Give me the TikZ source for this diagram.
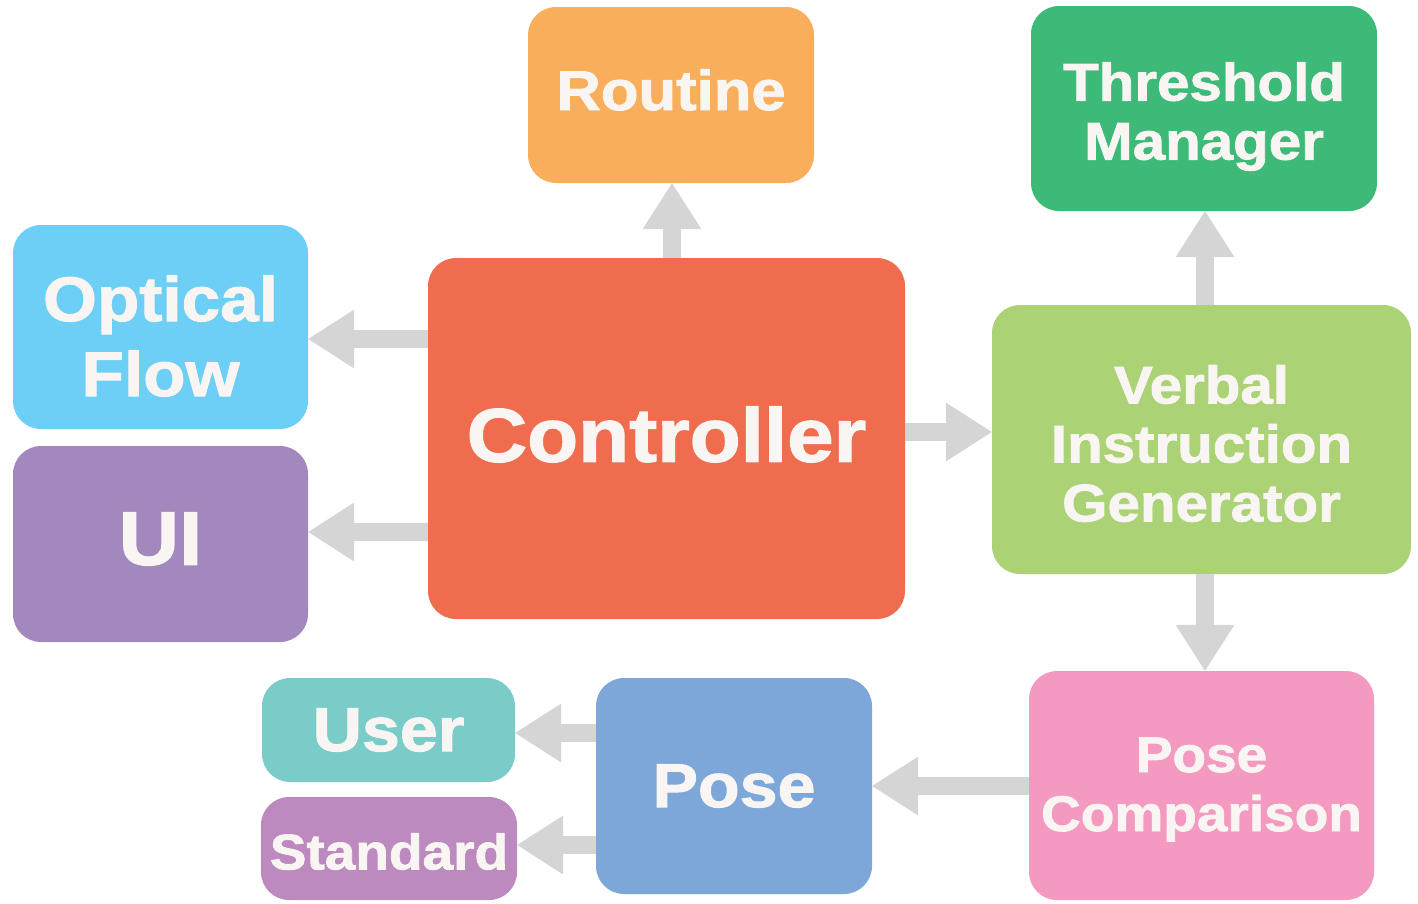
\documentclass[tikz,border=0pt]{standalone}
\usepackage{fontspec}
\usetikzlibrary{arrows.meta}
\newfontfamily\boxfont{Liberation Sans}[FakeStretch=1.1, BoldFeatures={FakeBold=1.6}]
\definecolor{cRoutine}{HTML}{F9AE5B}
\definecolor{cThresh}{HTML}{3DB978}
\definecolor{cOptical}{HTML}{6DCFF6}
\definecolor{cUI}{HTML}{A288BD}
\definecolor{cCtrl}{HTML}{F06C4F}
\definecolor{cVerbal}{HTML}{ABD274}
\definecolor{cPoseComp}{HTML}{F49AC1}
\definecolor{cPose}{HTML}{7DA7D8}
\definecolor{cUser}{HTML}{7ACCC8}
\definecolor{cStandard}{HTML}{BD8ABF}
\definecolor{cArrow}{HTML}{D5D5D5}
\definecolor{cText}{HTML}{F8F5F3}
\tikzset{
  blk/.style={rectangle, rounded corners=28pt, inner sep=0pt},
  lbl/.style={align=center, text=cText, inner sep=0pt},
  fs/.style={font=\boxfont\bfseries\fontsize{#1}{59}\selectfont},
  conn/.style={draw=cArrow, line width=18pt, -{Triangle[width=59pt,length=46pt,line width=0pt]}},
}
\begin{document}
\begin{tikzpicture}[x=1pt,y=-1pt]
\useasboundingbox (0,0) rectangle (1418,903);
\node[blk, fill=cRoutine, minimum width=286pt, minimum height=176pt,
  label={[lbl, fs=56, yshift=5pt]center:Routine}] (routine) at (671,95) {};
\node[blk, fill=cThresh, minimum width=346pt, minimum height=205pt,
  label={[lbl, fs=53, yshift=-8pt]center:Threshold\\Manager}] (thresh) at (1204,108.5) {};
\node[blk, fill=cOptical, minimum width=295pt, minimum height=204pt,
  label={[lbl, font=\boxfont\bfseries\fontsize{63}{75}\selectfont, yshift=-9pt]center:Optical\\Flow}] (optical) at (160.5,327) {};
\node[blk, fill=cUI, minimum width=295pt, minimum height=196pt,
  label={[lbl, fs=76, yshift=5pt]center:UI}] (ui) at (160.5,544) {};
\node[blk, fill=cCtrl, minimum width=477pt, minimum height=361pt,
  label={[lbl, fs=76, yshift=4pt]center:Controller}] (ctrl) at (666.5,438.5) {};
\node[blk, fill=cVerbal, minimum width=419pt, minimum height=269pt,
  label={[lbl, fs=53, yshift=-4pt]center:Verbal\\Instruction\\Generator}] (verbal) at (1201.5,439.5) {};
\node[blk, fill=cPoseComp, minimum width=345pt, minimum height=229pt,
  label={[lbl, fs=50, yshift=-4pt]center:Pose\\Comparison}] (posecomp) at (1201.5,785.5) {};
\node[blk, fill=cPose, minimum width=276pt, minimum height=216pt,
  label={[lbl, fs=62]center:Pose}] (pose) at (734,786) {};
\node[blk, fill=cUser, minimum width=253pt, minimum height=104pt,
  label={[lbl, fs=62]center:User}] (user) at (388.5,730) {};
\node[blk, fill=cStandard, minimum width=256pt, minimum height=103pt,
  label={[lbl, fs=50, yshift=-3pt]center:Standard}] (standard) at (389,848.5) {};

\draw[conn] (ctrl.north -| 672,0) -- (routine.south -| 672,0);
\draw[conn] (ctrl.west |- 0,339) -- (optical.east |- 0,339);
\draw[conn] (ctrl.west |- 0,532) -- (ui.east |- 0,532);
\draw[conn] (ctrl.east |- 0,432) -- (verbal.west |- 0,432);
\draw[conn] (verbal.north -| 1205,0) -- (thresh.south -| 1205,0);
\draw[conn] (verbal.south -| 1205,0) -- (posecomp.north -| 1205,0);
\draw[conn] (posecomp.west |- 0,786) -- (pose.east |- 0,786);
\draw[conn] (pose.west |- 0,733) -- (user.east |- 0,733);
\draw[conn] (pose.west |- 0,845) -- (standard.east |- 0,845);
\end{tikzpicture}
\end{document}
